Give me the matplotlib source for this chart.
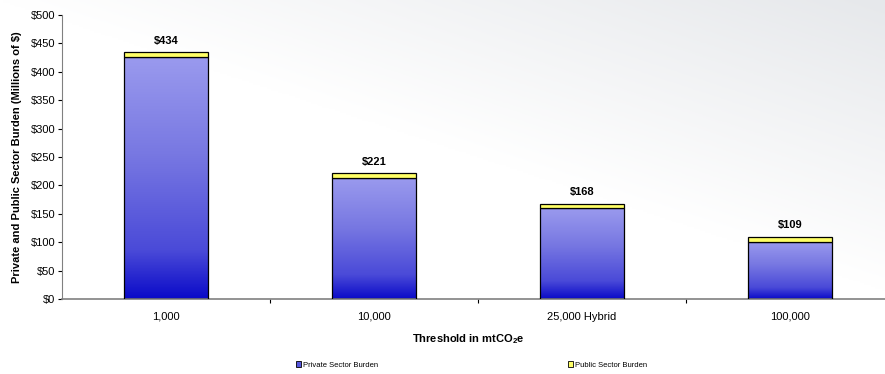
import numpy as np
import matplotlib
matplotlib.use("Agg")
import matplotlib.pyplot as plt
from matplotlib.colors import LinearSegmentedColormap
from matplotlib.patches import Rectangle

categories = ["1,000", "10,000", "25,000 Hybrid", "100,000"]
private = [426, 213, 160, 101]
public = [8, 8, 8, 8]
totals = [434, 221, 168, 109]
yticks = [0, 50, 100, 150, 200, 250, 300, 350, 400, 450, 500]

plt.rcParams['font.family'] = ['Liberation Sans', 'DejaVu Sans']

W, H = 885, 374
fig = plt.figure(figsize=(W / 100, H / 100), dpi=100)

# background gradient (subtle, grey toward top-right)
bg = fig.add_axes([0, 0, 1, 1], zorder=-10)
yy, xx = np.mgrid[0:1:200j, 0:1:400j]
g = np.clip((xx * 0.7 + yy * 0.9) - 0.9, 0, 1)
bgcmap = LinearSegmentedColormap.from_list("bg", ["#ffffff", "#e6e8eb"])
bg.imshow(g, cmap=bgcmap, origin="lower", extent=[0, 1, 0, 1], aspect="auto", vmin=0, vmax=0.7)
bg.set_axis_off()

left, right = 62 / W, 894 / W
bottom, top = 1 - 299 / H, 1 - 15 / H
ax = fig.add_axes([left, bottom, right - left, top - bottom])
ax.patch.set_alpha(0)

x = np.arange(len(categories))
bw = 0.404
bars = ax.bar(x, private, bw, color="none", edgecolor="black", linewidth=0.9, zorder=3)
pub = ax.bar(x, public, bw, bottom=private, color="#ffff66", edgecolor="black", linewidth=0.9, zorder=3)

cmap = LinearSegmentedColormap.from_list(
    "blue", [(0, "#0a0ac8"), (0.2, "#4a4ad8"), (0.6, "#7878e2"), (1, "#9a9aee")])
grad = np.linspace(0, 1, 256).reshape(-1, 1)
for b in bars:
    x0, y0, w, h = b.get_x(), b.get_y(), b.get_width(), b.get_height()
    im = ax.imshow(grad, cmap=cmap, origin="lower", aspect="auto",
                   extent=[x0, x0 + w, y0, y0 + h], zorder=2)
    clip = Rectangle((x0, y0), w, h, transform=ax.transData)
    im.set_clip_path(clip)

for xi, t in zip(x, totals):
    ax.text(xi, t + 12, f"${t}", ha="center", va="bottom", fontsize=8, fontweight="bold")

ax.set_xlim(-0.5, 3.5)
ax.set_ylim(0, 500)
ax.set_yticks(yticks)
ax.set_yticklabels([f"${v}" for v in yticks], fontsize=8)
ax.set_xticks(x)
ax.set_xticklabels(categories, fontsize=8)
ax.set_xticks(x[:-1] + 0.5, minor=True)
ax.tick_params(axis="x", which="major", length=0, pad=9)
ax.tick_params(axis="x", which="minor", length=3, direction="out", color="black", width=0.8)
ax.tick_params(axis="y", length=3, width=0.8, pad=2, direction="out")
for s in ["top", "right"]:
    ax.spines[s].set_visible(False)
ax.spines["left"].set_color("#808080")
ax.spines["bottom"].set_color("#808080")
ax.spines["bottom"].set_linewidth(1.2)

ax.set_ylabel("Private and Public Sector Burden (Millions of $)", fontsize=8, fontweight="bold", labelpad=6)
ax.set_xlabel("Threshold in mtCO$_\\mathregular{2}$e", fontsize=8, fontweight="bold", labelpad=8)
ax.xaxis.set_label_coords((468 / W - left) / (right - left), -(332 - 299) / (299 - 15))

h1 = Rectangle((0, 0), 1, 1, facecolor="#5555dd", edgecolor="black", linewidth=0.6)
h2 = Rectangle((0, 0), 1, 1, facecolor="#ffff66", edgecolor="black", linewidth=0.6)
fig.legend([h1], ["Private Sector Burden"], loc="center left", bbox_to_anchor=(292 / W, 1 - 365 / H),
           frameon=False, fontsize=5.5, handlelength=0.7, handleheight=0.7, handletextpad=0.2, borderpad=0)
fig.legend([h2], ["Public Sector Burden"], loc="center left", bbox_to_anchor=(564 / W, 1 - 365 / H),
           frameon=False, fontsize=5.5, handlelength=0.7, handleheight=0.7, handletextpad=0.2, borderpad=0)

fig.savefig("out.png", dpi=100)
